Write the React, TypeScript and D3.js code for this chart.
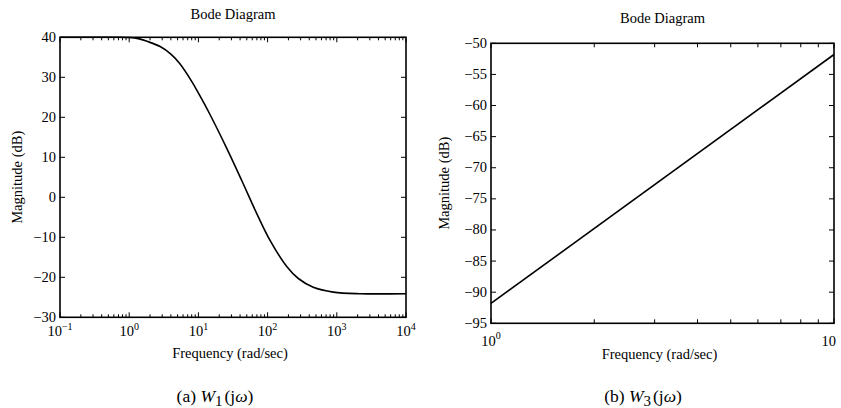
import React from "react";
import * as d3 from "d3";

// Panel (a): W1(jω) magnitude
const w1Freq = [0.1, 0.5, 1, 1.4, 1.8, 2.8, 4, 5.4, 8, 10.5, 14.7, 25.6, 42.3, 69.5, 108, 189, 278, 457, 891, 2160, 10000];
const w1Mag = [40, 40, 39.95, 39.6, 39.0, 37.7, 35.8, 33.4, 29.0, 25.4, 20.7, 12.3, 4.2, -4.0, -10.7, -17.3, -20.3, -22.5, -23.7, -24.1, -24.1];

// Panel (b): W3(jω) magnitude
const w3Freq = [1, 10];
const w3Mag = [-91.8, -51.8];

const leftYTicks = [40, 30, 20, 10, 0, -10, -20, -30];
const rightYTicks = [-50, -55, -60, -65, -70, -75, -80, -85, -90, -95];
const leftXExp = [-1, 0, 1, 2, 3, 4];

const FONT = "'Liberation Serif', 'Times New Roman', serif";
const fmt = (v: number) => (v < 0 ? "\u2212" + Math.abs(v) : String(v));

function Panel(props: {
  box: { x0: number; x1: number; y0: number; y1: number };
  xDomain: [number, number];
  yDomain: [number, number];
  yTicks: number[];
  freq: number[];
  mag: number[];
  titleY: number;
  ylabelX: number;
  xlabelY: number;
  captionY: number;
  captionX: number;
  caption: string;
  sub: string;
  kind: "a" | "b";
}) {
  const { box } = props;
  const x = d3.scaleLog().domain(props.xDomain).range([box.x0, box.x1]);
  const y = d3.scaleLinear().domain(props.yDomain).range([box.y1, box.y0]);
  const line = d3
    .line<number>()
    .x((_, i) => x(props.freq[i]))
    .y((d) => y(d))
    .curve(d3.curveCatmullRom.alpha(0.5));
  const xt = x.ticks();
  const isMajor = (v: number) => Math.abs(Math.log10(v) - Math.round(Math.log10(v))) < 1e-9;
  const cx = (box.x0 + box.x1) / 2;
  const cy = (box.y0 + box.y1) / 2;
  return (
    <g fontFamily={FONT} fill="#000">
      <text x={cx} y={props.titleY} textAnchor="middle" fontSize={14.5}>
        Bode Diagram
      </text>
      {xt.map((v, i) => {
        const len = isMajor(v) ? 5 : props.kind === "b" ? 4 : 3;
        const px = x(v);
        return (
          <g key={"xt" + i} stroke="#000" strokeWidth={1}>
            <line x1={px} x2={px} y1={box.y1} y2={box.y1 - len} />
            <line x1={px} x2={px} y1={box.y0} y2={box.y0 + len} />
          </g>
        );
      })}
      {props.yTicks.map((v, i) => (
        <g key={"yt" + i}>
          <line x1={box.x0} x2={box.x0 + 5} y1={y(v)} y2={y(v)} stroke="#000" strokeWidth={1} />
          <line x1={box.x1} x2={box.x1 - 5} y1={y(v)} y2={y(v)} stroke="#000" strokeWidth={1} />
          <text x={box.x0 - 4} y={y(v) + 4.5} textAnchor="end" fontSize={14.5}>
            {fmt(v)}
          </text>
        </g>
      ))}
      {props.kind === "a" &&
        leftXExp.map((e) => (
          <text key={"xl" + e} x={x(Math.pow(10, e))} y={box.y1 + 19} textAnchor="middle" fontSize={14.5}>
            10
            <tspan dy={-6} fontSize={10}>
              {fmt(e)}
            </tspan>
          </text>
        ))}
      {props.kind === "b" && (
        <g>
          <text x={x(1)} y={box.y1 + 23} textAnchor="middle" fontSize={14.5}>
            10
            <tspan dy={-7} fontSize={10}>
              0
            </tspan>
          </text>
          <text x={x(10) + 2} y={box.y1 + 23} textAnchor="end" fontSize={14.5}>
            10
          </text>
        </g>
      )}
      <text x={cx - 3} y={props.xlabelY} textAnchor="middle" fontSize={14.5}>
        Frequency (rad/sec)
      </text>
      <text
        transform={`translate(${props.ylabelX},${cy}) rotate(-90)`}
        textAnchor="middle"
        fontSize={14.5}
      >
        Magnitude (dB)
      </text>
      <path d={line(props.mag) || ""} fill="none" stroke="#000" strokeWidth={1.6} />
      <rect
        x={box.x0}
        y={box.y0}
        width={box.x1 - box.x0}
        height={box.y1 - box.y0}
        fill="none"
        stroke="#000"
        strokeWidth={1.6}
      />
      <text x={props.captionX} y={props.captionY} textAnchor="middle" fontSize={17.5}>
        {props.caption}
        <tspan fontStyle="italic">W</tspan>
        <tspan dy={4} fontSize={15}>
          {props.sub}
        </tspan>
        <tspan dy={-4} dx={2}>(j</tspan>
        <tspan fontStyle="italic">ω</tspan>
        <tspan>)</tspan>
      </text>
    </g>
  );
}

export default function App() {
  return (
    <svg
      width={841}
      height={408}
      style={{ position: "absolute", left: 0, top: 0, background: "#fff" }}
    >
      <rect x={0} y={0} width={841} height={408} fill="#fff" />
      <Panel
        box={{ x0: 60, x1: 406, y0: 37.3, y1: 317.3 }}
        xDomain={[0.1, 10000]}
        yDomain={[-30, 40]}
        yTicks={leftYTicks}
        freq={w1Freq}
        mag={w1Mag}
        titleY={19}
        ylabelX={22}
        xlabelY={358}
        captionX={215}
        captionY={402}
        caption="(a) "
        sub="1"
        kind="a"
      />
      <Panel
        box={{ x0: 491, x1: 834, y0: 43.3, y1: 323.3 }}
        xDomain={[1, 10]}
        yDomain={[-95, -50]}
        yTicks={rightYTicks}
        freq={w3Freq}
        mag={w3Mag}
        titleY={23}
        ylabelX={449}
        xlabelY={359}
        captionX={643}
        captionY={402}
        caption="(b) "
        sub="3"
        kind="b"
      />
    </svg>
  );
}
